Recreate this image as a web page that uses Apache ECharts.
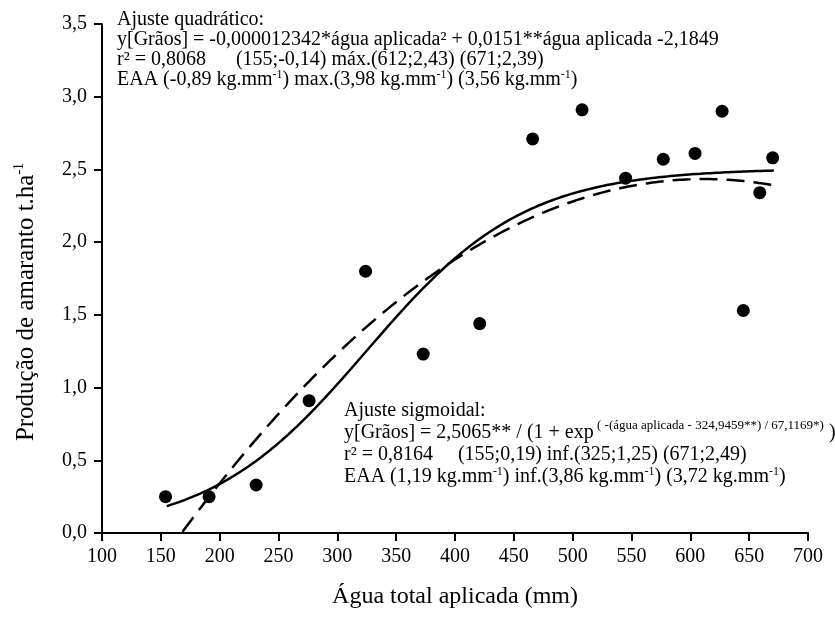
<!DOCTYPE html>
<html>
<head>
<meta charset="utf-8">
<script src="https://cdn.jsdelivr.net/npm/echarts@6/dist/echarts.min.js"></script>
<style>
  html, body { margin: 0; padding: 0; background: #fff; }
  #chart { width: 835px; height: 617px; }
</style>
</head>
<body>
<div id="chart"></div>
<script>
// Observed grain yield of amaranth vs total applied water
const waterApplied = [154, 191, 231, 276, 324, 373, 421, 466, 508, 545, 577, 604, 627, 645, 659, 670];
const grainYield   = [0.25, 0.25, 0.33, 0.91, 1.80, 1.23, 1.44, 2.71, 2.91, 2.44, 2.57, 2.61, 2.90, 1.53, 2.34, 2.58];

// Fitted models (coefficients as reported in the annotations)
const quadCoef = [-2.1849, 0.0151, -0.000012342];   // c0, c1, c2
const sigmoidCoef = [2.5065, 324.9459, 67.1169];    // a, x0, b
const fitRange = [155, 671];

const xTicks = { min: 100, max: 700, interval: 50 };
const yTicks = { min: 0, max: 3.5, interval: 0.5 };

function sampleCurve(fn) {
  const pts = [];
  const n = 200;
  for (let i = 0; i <= n; i++) {
    const x = fitRange[0] + (fitRange[1] - fitRange[0]) * i / n;
    pts.push([x, fn(x)]);
  }
  return pts;
}
const quadFit = sampleCurve(x => quadCoef[0] + quadCoef[1] * x + quadCoef[2] * x * x);
const sigmoidFit = sampleCurve(x => sigmoidCoef[0] / (1 + Math.exp(-(x - sigmoidCoef[1]) / sigmoidCoef[2])));

const FONT = '"Liberation Serif", "Times New Roman", serif';
const comma = v => String(v).replace('.', ',');

function richStyles(lh) {
  return {
    n:   { fontFamily: FONT, fontSize: 20, color: '#000', lineHeight: lh },
    sup: { fontFamily: FONT, fontSize: 12, color: '#000', lineHeight: lh, padding: [0, 0, 11, 0] },
    big: { fontFamily: FONT, fontSize: 13, color: '#000', lineHeight: lh, padding: [0, 0, 14, 0] }
  };
}

const topBlock = [
  '{n|Ajuste quadrático:}',
  '{n|y[Grãos] = -0,000012342*água aplicada² + 0,0151**água aplicada -2,1849}',
  '{n|r² = 0,8068      (155;-0,14) máx.(612;2,43) (671;2,39)}',
  '{n|EAA (-0,89 kg.mm}{sup|-1}{n|) max.(3,98 kg.mm}{sup|-1}{n|) (3,56 kg.mm}{sup|-1}{n|)}'
].join('\n');

const bottomBlock = [
  '{n|Ajuste sigmoidal:}',
  '{n|y[Grãos] = 2,5065** / (1 + exp}{big| ( -(água aplicada - 324,9459**) / 67,1169*)}{n| )}',
  '{n|r² = 0,8164     (155;0,19) inf.(325;1,25) (671;2,49)}',
  '{n|EAA (1,19 kg.mm}{sup|-1}{n|) inf.(3,86 kg.mm}{sup|-1}{n|) (3,72 kg.mm}{sup|-1}{n|)}'
].join('\n');

const yTitle = '{n|Produção de amaranto t.ha}{s|-1}';

const chart = echarts.init(document.getElementById('chart'), null, { renderer: 'canvas' });
chart.setOption({
  animation: false,
  backgroundColor: '#fff',
  grid: { left: 102, right: 27, top: 24, bottom: 84 },
  xAxis: {
    type: 'value',
    min: xTicks.min, max: xTicks.max, interval: xTicks.interval,
    name: 'Água total aplicada (mm)',
    nameLocation: 'middle',
    nameGap: 52,
    nameTextStyle: { fontFamily: FONT, fontSize: 24, color: '#000' },
    axisLine: { lineStyle: { color: '#000', width: 2 } },
    axisTick: { length: 8, lineStyle: { color: '#000', width: 2 } },
    axisLabel: { fontFamily: FONT, fontSize: 20, color: '#000', margin: 14 },
    splitLine: { show: false }
  },
  yAxis: {
    type: 'value',
    min: yTicks.min, max: yTicks.max, interval: yTicks.interval,
    axisLine: { show: true, lineStyle: { color: '#000', width: 2 } },
    axisTick: { show: true, length: 8, lineStyle: { color: '#000', width: 2 } },
    axisLabel: {
      fontFamily: FONT, fontSize: 20, color: '#000', margin: 15,
      formatter: v => comma(v.toFixed(1))
    },
    splitLine: { show: false }
  },
  series: [
    {
      name: 'Sigmoidal',
      type: 'line',
      data: sigmoidFit,
      showSymbol: false,
      lineStyle: { color: '#000', width: 2.5 },
      z: 2
    },
    {
      name: 'Quadrático',
      type: 'line',
      data: quadFit,
      showSymbol: false,
      clip: true,
      lineStyle: { color: '#000', width: 2.5, type: [18, 9] },
      z: 2
    },
    {
      name: 'Observado',
      type: 'scatter',
      data: waterApplied.map((x, i) => [x, grainYield[i]]),
      symbol: 'circle',
      symbolSize: 13,
      itemStyle: { color: '#000', opacity: 1 },
      z: 3
    }
  ],
  graphic: [
    {
      type: 'text', left: 117, top: 10,
      style: { text: topBlock, rich: richStyles(20), fill: '#000' }
    },
    {
      type: 'text', left: 344, top: 401,
      style: { text: bottomBlock, rich: richStyles(22), fill: '#000' }
    },
    {
      type: 'text', x: 26, y: 302, rotation: Math.PI / 2,
      style: {
        text: yTitle,
        align: 'center', verticalAlign: 'middle',
        rich: {
          n: { fontFamily: FONT, fontSize: 25, color: '#000', lineHeight: 28 },
          s: { fontFamily: FONT, fontSize: 14, color: '#000', lineHeight: 28, padding: [0, 0, 13, 0] }
        }
      }
    }
  ]
});
</script>
</body>
</html>
